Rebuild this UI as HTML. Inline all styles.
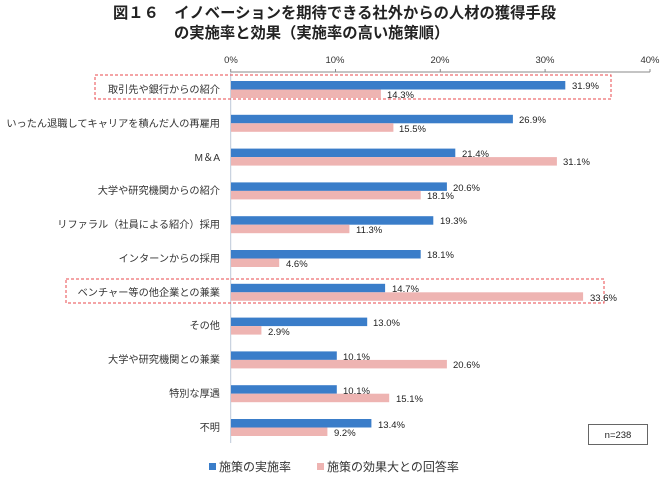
<!DOCTYPE html>
<html><head><meta charset="utf-8"><style>
body{margin:0;background:#fff}
svg{display:block;font-family:"Liberation Sans","Noto Sans CJK JP",sans-serif}
</style></head><body>
<svg width="663" height="480" viewBox="0 0 663 480">
<text x="113" y="18" font-size="15.3" font-weight="bold" fill="#222">図１６　イノベーションを期待できる社外からの人材の獲得手段</text>
<text x="174" y="38" font-size="15.3" font-weight="bold" fill="#222">の実施率と効果（実施率の高い施策順）</text>
<g font-size="9.5" fill="#333" text-anchor="middle">
<text x="231" y="63">0%</text><text x="335" y="63">10%</text><text x="440" y="63">20%</text><text x="545" y="63">30%</text><text x="650" y="63">40%</text>
</g>
<g stroke="#888" stroke-width="1">
<line x1="230.7" y1="72" x2="650" y2="72"/>
<line x1="230.7" y1="72" x2="230.7" y2="443" stroke="#bcc8d8"/>
<line x1="230.7" y1="69" x2="230.7" y2="72"/><line x1="335.5" y1="69" x2="335.5" y2="72"/><line x1="440.3" y1="69" x2="440.3" y2="72"/><line x1="545.1" y1="69" x2="545.1" y2="72"/><line x1="650" y1="69" x2="650" y2="72"/>
</g>
<g fill="none" stroke="#e8484e" stroke-width="1" stroke-dasharray="3,2">
<rect x="95" y="75" width="516" height="24"/>
<rect x="66" y="279" width="538" height="24"/>
</g>
<g fill="#3a7dc9">
<rect x="231" y="81" width="334.3" height="8.5"/>
<rect x="231" y="114.8" width="281.9" height="8.5"/>
<rect x="231" y="148.6" width="224.3" height="8.5"/>
<rect x="231" y="182.4" width="215.9" height="8.5"/>
<rect x="231" y="216.2" width="202.3" height="8.5"/>
<rect x="231" y="250" width="189.7" height="8.5"/>
<rect x="231" y="283.8" width="154.1" height="8.5"/>
<rect x="231" y="317.6" width="136.2" height="8.5"/>
<rect x="231" y="351.4" width="105.8" height="8.5"/>
<rect x="231" y="385.2" width="105.8" height="8.5"/>
<rect x="231" y="419" width="140.4" height="8.5"/>
</g>
<g fill="#eeb4b2">
<rect x="231" y="89.5" width="149.9" height="8.5"/>
<rect x="231" y="123.3" width="162.4" height="8.5"/>
<rect x="231" y="157.1" width="325.9" height="8.5"/>
<rect x="231" y="190.9" width="189.7" height="8.5"/>
<rect x="231" y="224.7" width="118.4" height="8.5"/>
<rect x="231" y="258.5" width="48.2" height="8.5"/>
<rect x="231" y="292.3" width="352.1" height="8.5"/>
<rect x="231" y="326.1" width="30.4" height="8.5"/>
<rect x="231" y="359.9" width="215.9" height="8.5"/>
<rect x="231" y="393.7" width="158.2" height="8.5"/>
<rect x="231" y="427.5" width="96.4" height="8.5"/>
</g>
<g font-size="9.5" fill="#222">
<text x="572" y="89">31.9%</text><text x="387" y="98">14.3%</text>
<text x="519" y="123">26.9%</text><text x="399" y="132">15.5%</text>
<text x="462" y="157">21.4%</text><text x="563" y="165">31.1%</text>
<text x="453" y="191">20.6%</text><text x="427" y="199">18.1%</text>
<text x="440" y="224">19.3%</text><text x="356" y="233">11.3%</text>
<text x="427" y="258">18.1%</text><text x="286" y="267">4.6%</text>
<text x="392" y="292">14.7%</text><text x="590" y="301">33.6%</text>
<text x="373" y="326">13.0%</text><text x="268" y="335">2.9%</text>
<text x="343" y="360">10.1%</text><text x="453" y="368">20.6%</text>
<text x="343" y="394">10.1%</text><text x="396" y="402">15.1%</text>
<text x="378" y="428">13.4%</text><text x="334" y="436">9.2%</text>
</g>
<g font-size="10.2" fill="#333" text-anchor="end">
<text x="220" y="93">取引先や銀行からの紹介</text>
<text x="220" y="127">いったん退職してキャリアを積んだ人の再雇用</text>
<text x="220" y="161">M＆A</text>
<text x="220" y="194">大学や研究機関からの紹介</text>
<text x="220" y="228">リファラル（社員による紹介）採用</text>
<text x="220" y="262">インターンからの採用</text>
<text x="220" y="296">ベンチャー等の他企業との兼業</text>
<text x="220" y="329">その他</text>
<text x="220" y="363">大学や研究機関との兼業</text>
<text x="220" y="397">特別な厚遇</text>
<text x="220" y="431">不明</text>
</g>
<rect x="588.5" y="424.5" width="59" height="20" fill="#fff" stroke="#666"/>
<text x="618" y="438" font-size="9.5" fill="#222" text-anchor="middle">n=238</text>
<rect x="209" y="463" width="7" height="7" fill="#3a7dc9"/>
<text x="219" y="471" font-size="12" fill="#333">施策の実施率</text>
<rect x="317" y="463" width="7" height="7" fill="#eeb4b2"/>
<text x="327" y="471" font-size="12" fill="#333">施策の効果大との回答率</text>
</svg>
</body></html>
